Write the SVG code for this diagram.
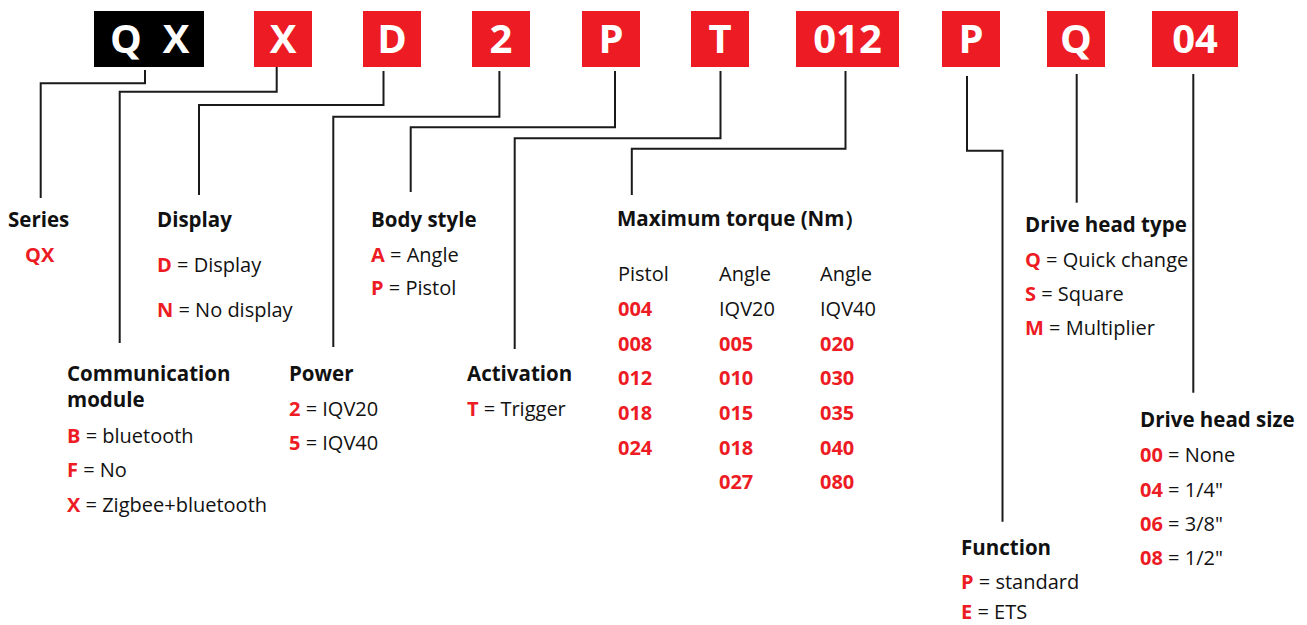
<svg xmlns="http://www.w3.org/2000/svg" width="1307" height="625" viewBox="0 0 1307 625">
<style>
text{font-family:"Open Sans","Noto Sans",sans-serif;font-size:20px;fill:#111}
.h{font-weight:700;font-size:20.5px}
.r{fill:#ED1C24;font-weight:700}
.box{fill:#ED1C24}
.bt{font-family:"Open Sans","Noto Sans",sans-serif;font-size:40px;font-weight:700;fill:#fff;text-anchor:middle}
.con{fill:none;stroke:#1a1a1a;stroke-width:2}
</style>
<rect width="1307" height="625" fill="#fff"/>
<g id="codes">
<g id="code-qx"><rect x="94" y="11" width="110" height="56" fill="#000"/><text class="bt" x="126 150 176" y="53">Q X</text></g>
<g id="code-x"><rect class="box" x="254" y="11" width="58" height="56"/><text class="bt" x="283" y="53">X</text></g>
<g id="code-d"><rect class="box" x="363" y="11" width="58" height="56"/><text class="bt" x="392" y="53">D</text></g>
<g id="code-2"><rect class="box" x="472" y="11" width="58" height="56"/><text class="bt" x="501" y="53">2</text></g>
<g id="code-p"><rect class="box" x="582" y="11" width="58" height="56"/><text class="bt" x="611" y="53">P</text></g>
<g id="code-t"><rect class="box" x="691" y="11" width="58" height="56"/><text class="bt" x="720" y="53">T</text></g>
<g id="code-012"><rect class="box" x="796" y="11" width="103" height="56"/><text class="bt" x="847.5" y="53">012</text></g>
<g id="code-p2"><rect class="box" x="942" y="11" width="58" height="56"/><text class="bt" x="971" y="53">P</text></g>
<g id="code-q"><rect class="box" x="1047" y="11" width="58" height="56"/><text class="bt" x="1076" y="53">Q</text></g>
<g id="code-04"><rect class="box" x="1152" y="11" width="86" height="56"/><text class="bt" x="1195" y="53">04</text></g>
</g>
<g id="connectors">
<path class="con" d="M145,70 V83.3 H40.7 V198"/>
<path class="con" d="M276.7,67 V91.7 H119.7 V343"/>
<path class="con" d="M383.5,71 V105 H199 V195"/>
<path class="con" d="M499.4,71 V116.7 H333.3 V347"/>
<path class="con" d="M615,71 V127.3 H410.7 V192"/>
<path class="con" d="M720.5,71 V138.3 H514.7 V349"/>
<path class="con" d="M845.5,71 V148.7 H631.8 V195"/>
<path class="con" d="M967,76 V150.7 H1002.5 V521.7"/>
<path class="con" d="M1076.7,74 V202.7"/>
<path class="con" d="M1193.3,74 V392.7"/>
</g>
<g id="series">
<text class="h" x="8" y="227">Series</text>
<text class="r" x="25" y="262">QX</text>
</g>
<g id="display">
<text class="h" x="157" y="227">Display</text>
<text x="157" y="272"><tspan class="r">D</tspan> = Display</text>
<text x="157" y="317"><tspan class="r">N</tspan> = No display</text>
</g>
<g id="body-style">
<text class="h" x="371" y="227">Body style</text>
<text x="371" y="262"><tspan class="r">A</tspan> = Angle</text>
<text x="371" y="295"><tspan class="r">P</tspan> = Pistol</text>
</g>
<g id="max-torque">
<text class="h" x="617" y="226">Maximum torque (Nm）</text>
<text x="618" y="281">Pistol</text>
<text x="719" y="281">Angle</text>
<text x="820" y="281">Angle</text>
<text class="r" x="618" y="316">004</text>
<text x="719" y="316">IQV20</text>
<text x="820" y="316">IQV40</text>
<text class="r" x="618" y="351">008</text>
<text class="r" x="719" y="351">005</text>
<text class="r" x="820" y="351">020</text>
<text class="r" x="618" y="385">012</text>
<text class="r" x="719" y="385">010</text>
<text class="r" x="820" y="385">030</text>
<text class="r" x="618" y="420">018</text>
<text class="r" x="719" y="420">015</text>
<text class="r" x="820" y="420">035</text>
<text class="r" x="618" y="455">024</text>
<text class="r" x="719" y="455">018</text>
<text class="r" x="820" y="455">040</text>
<text class="r" x="719" y="489">027</text>
<text class="r" x="820" y="489">080</text>
</g>
<g id="communication">
<text class="h" x="67" y="381">Communication</text>
<text class="h" x="67" y="407">module</text>
<text x="67" y="443"><tspan class="r">B</tspan> = bluetooth</text>
<text x="67" y="477"><tspan class="r">F</tspan> = No</text>
<text x="67" y="512"><tspan class="r">X</tspan> = Zigbee+bluetooth</text>
</g>
<g id="power">
<text class="h" x="289" y="381">Power</text>
<text x="289" y="416"><tspan class="r">2</tspan> = IQV20</text>
<text x="289" y="450"><tspan class="r">5</tspan> = IQV40</text>
</g>
<g id="activation">
<text class="h" x="467" y="381">Activation</text>
<text x="467" y="416"><tspan class="r">T</tspan> = Trigger</text>
</g>
<g id="drive-head-type">
<text class="h" x="1025" y="232">Drive head type</text>
<text x="1025" y="267"><tspan class="r">Q</tspan> = Quick change</text>
<text x="1025" y="301"><tspan class="r">S</tspan> = Square</text>
<text x="1025" y="335"><tspan class="r">M</tspan> = Multiplier</text>
</g>
<g id="drive-head-size">
<text class="h" x="1140" y="427">Drive head size</text>
<text x="1140" y="462"><tspan class="r">00</tspan> = None</text>
<text x="1140" y="497"><tspan class="r">04</tspan> = 1/4"</text>
<text x="1140" y="531"><tspan class="r">06</tspan> = 3/8"</text>
<text x="1140" y="565"><tspan class="r">08</tspan> = 1/2"</text>
</g>
<g id="function">
<text class="h" x="961" y="555">Function</text>
<text x="961" y="589"><tspan class="r">P</tspan> = standard</text>
<text x="961" y="619"><tspan class="r">E</tspan> = ETS</text>
</g>
</svg>
